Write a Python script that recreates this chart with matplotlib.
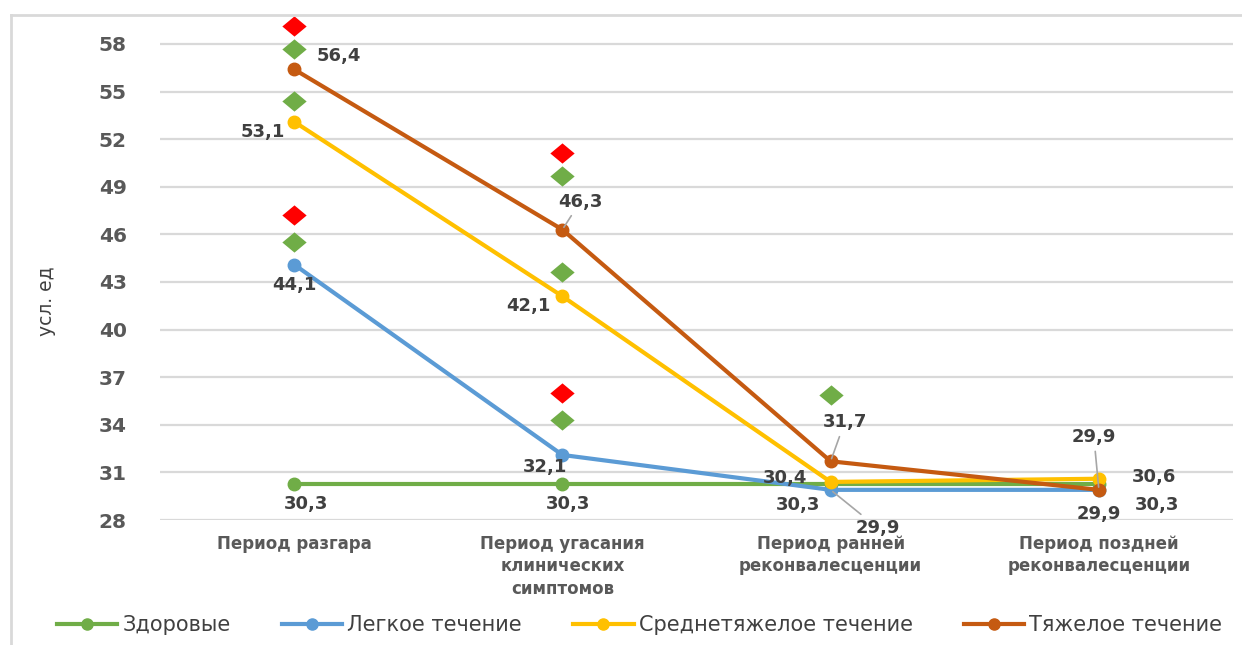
import matplotlib
matplotlib.use("Agg")
import matplotlib.pyplot as plt
from matplotlib.path import Path
from matplotlib.lines import Line2D

# ---- data ----
categories = ["Период разгара",
              "Период угасания\nклинических\nсимптомов",
              "Период ранней\nреконвалесценции",
              "Период поздней\nреконвалесценции"]
series_names = ["Здоровые", "Легкое течение", "Среднетяжелое течение", "Тяжелое течение"]
healthy = [30.3, 30.3, 30.3, 30.3]
mild = [44.1, 32.1, 29.9, 29.9]
moderate = [53.1, 42.1, 30.4, 30.6]
severe = [56.4, 46.3, 31.7, 29.9]

# significance markers (category index, value)
green_sig_cat = [0, 0, 0, 1, 1, 1, 2]
green_sig_val = [57.7, 54.4, 45.5, 49.7, 43.6, 34.3, 35.9]
red_sig_cat = [0, 0, 1, 1]
red_sig_val = [59.1, 47.2, 51.1, 36.0]

yticks = [28, 31, 34, 37, 40, 43, 46, 49, 52, 55, 58]
ylabel = "усл. ед"

# ---- styles ----
colors = ["#70AD47", "#5B9BD5", "#FFC000", "#C55A11"]
text_col = "#404040"
tick_col = "#595959"
grid_col = "#D9D9D9"
leader_col = "#A6A6A6"

# label offsets in pixels (dx, dy, leader line)
label_offsets = [
    [(12, -20, False), (6, -20, False), (-33, -21, False), (58, -21, False)],
    [(0, -20, False), (-17, -12, False), (47, -38, True), (0, -24, False)],
    [(-31, -10, False), (-34, -10, False), (-46, 4, False), (55, 2, False)],
    [(45, 13, False), (18, 28, True), (14, 39, True), (-5, 53, True)],
]

W, H = 1242, 645
fig = plt.figure(figsize=(W / 100, H / 100), dpi=100)
fig.patch.set_facecolor("white")

ax = fig.add_axes([160 / W, 1 - 520 / H, (1233 - 160) / W, (520 - 12.2) / H])
ax.set_xlim(-0.5, 3.5)
ax.set_ylim(28, 60)
for s in ax.spines.values():
    s.set_visible(False)
ax.set_yticks(yticks)
ax.set_yticklabels([str(t) for t in yticks], fontsize=14.5, fontweight="bold",
                   color=tick_col, fontfamily="DejaVu Sans")
ax.tick_params(axis="y", length=0, pad=24)
ax.tick_params(axis="x", length=0, pad=11)
ax.set_xticks(range(len(categories)))
ax.set_xticklabels(categories, fontsize=12, fontweight="bold", color=tick_col,
                   linespacing=1.3, fontfamily="DejaVu Sans")
ax.yaxis.grid(True, color=grid_col, linewidth=1.6)
ax.set_axisbelow(True)

x = list(range(len(categories)))
all_series = [healthy, mild, moderate, severe]
for vals, col in zip(all_series, colors):
    ax.plot(x, vals, color=col, linewidth=3.0, marker="o", markersize=9,
            solid_capstyle="round", zorder=3)

# wide diamond marker
diamond = Path([(0, 1), (1.2, 0), (0, -1), (-1.2, 0), (0, 1)],
               [Path.MOVETO, Path.LINETO, Path.LINETO, Path.LINETO, Path.CLOSEPOLY])
ax.plot(green_sig_cat, green_sig_val, linestyle="none", marker=diamond,
        markersize=17.5, color="#70AD47", markeredgewidth=0, zorder=4)
ax.plot(red_sig_cat, red_sig_val, linestyle="none", marker=diamond,
        markersize=17.5, color="#FF0000", markeredgewidth=0, zorder=4)

# data labels
for vals, offs in zip(all_series, label_offsets):
    for i, v in enumerate(vals):
        dx, dy, leader = offs[i]
        txt = f"{v:.1f}".replace(".", ",")
        kw = {}
        if leader:
            kw["arrowprops"] = dict(arrowstyle="-", color=leader_col, lw=1.2,
                                    shrinkA=2, shrinkB=2)
        ax.annotate(txt, xy=(i, v), xytext=(dx, dy), textcoords="offset pixels",
                    ha="center", va="center", fontsize=13, fontweight="bold",
                    color=text_col, fontfamily="DejaVu Sans", zorder=5, **kw)

ax.set_ylabel(ylabel, fontsize=13.5, color=text_col, fontfamily="DejaVu Sans")
ax.yaxis.set_label_coords((56 - 160) / (1233 - 160), 0.43)

# legend
handles = [Line2D([], [], color=c, linewidth=3.0, marker="o", markersize=8)
           for c in colors]
fig.legend(handles, series_names, loc="center", bbox_to_anchor=(0.515, 1 - 625 / H),
           ncol=4, frameon=False, handlelength=2.9, handletextpad=0.25,
           columnspacing=2.45, labelcolor=text_col,
           prop={"family": "DejaVu Sans", "size": 15})

# outer chart frame
fig.add_artist(Line2D([11 / W, 11 / W], [0, 1 - 15 / H], color=grid_col, lw=2,
                      transform=fig.transFigure))
fig.add_artist(Line2D([11 / W, 1], [1 - 15 / H, 1 - 15 / H], color=grid_col, lw=2,
                      transform=fig.transFigure))

fig.savefig("out.png", dpi=100)
